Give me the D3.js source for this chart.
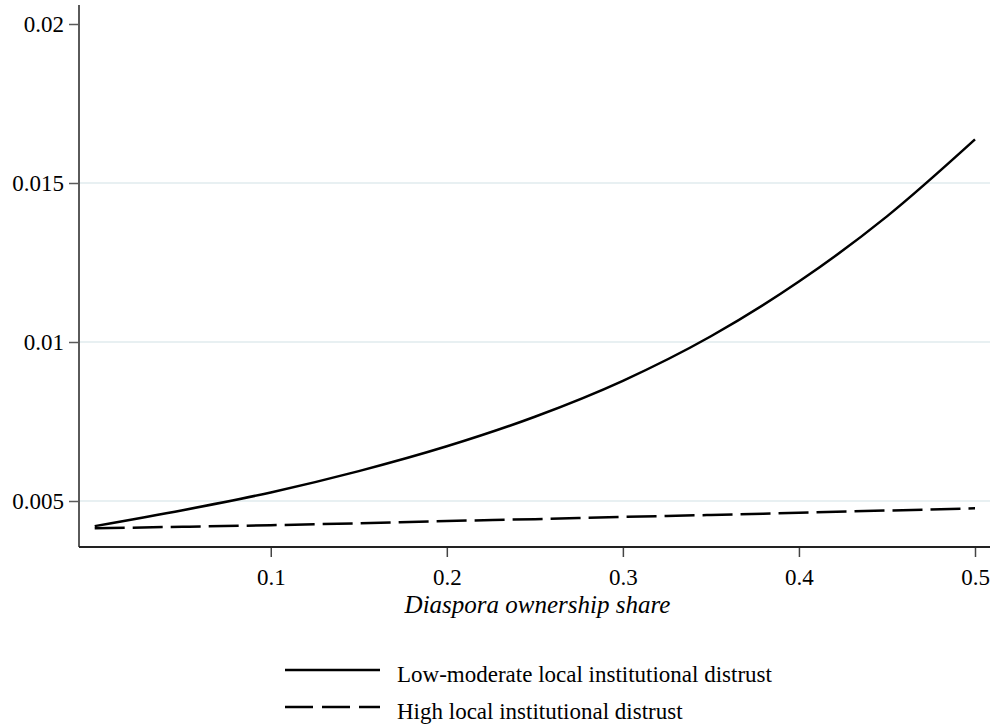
<!DOCTYPE html>
<html>
<head>
<meta charset="utf-8">
<script src="https://cdn.jsdelivr.net/npm/d3@7.9.0/dist/d3.min.js"></script>
<style>
  body { margin: 0; background: #fff; }
  svg text { font-family: "Liberation Serif", "Times New Roman", serif; fill: #000; }
</style>
</head>
<body>
<svg id="chart" width="994" height="726"></svg>
<script>
const shares = [0, 0.05, 0.1, 0.15, 0.2, 0.25, 0.3, 0.35, 0.4, 0.45, 0.5];
const lowModerate = [0.00421, 0.00471, 0.00527, 0.00594, 0.00672, 0.00765, 0.00878, 0.01018, 0.0119, 0.01395, 0.01637];
const high = [0.00414, 0.00419, 0.00424, 0.0043, 0.00437, 0.00443, 0.0045, 0.00456, 0.00463, 0.0047, 0.00477];
const xTicks = [0.1, 0.2, 0.3, 0.4, 0.5];
const yTicks = [0.005, 0.01, 0.015, 0.02];
const gridTicks = [0.005, 0.01, 0.015];
const seriesNames = ['Low-moderate local institutional distrust', 'High local institutional distrust'];

const svg = d3.select('#chart');
const plotLeft = 79, plotRight = 990, plotTop = 5, plotBottom = 547;
const serif = '"Liberation Serif", "Times New Roman", serif';

const x = d3.scaleLinear().domain([0, 0.5]).range([94.7, 975]);
const y = d3.scaleLinear().domain([0.005, 0.02]).range([501, 24]);

// gridlines
svg.append('g')
  .selectAll('line')
  .data(gridTicks)
  .join('line')
  .attr('x1', plotLeft)
  .attr('x2', plotRight)
  .attr('y1', (d) => y(d))
  .attr('y2', (d) => y(d))
  .attr('stroke', '#e8f0f2')
  .attr('stroke-width', 2);

// y axis
const yAxis = svg.append('g')
  .attr('transform', `translate(${plotLeft},0)`)
  .call(d3.axisLeft(y).tickValues(yTicks).tickSize(10).tickPadding(5).tickFormat((d) => String(+d.toFixed(3))));
yAxis.attr('font-family', serif).attr('font-size', 23);
yAxis.select('.domain').remove();
yAxis.append('line')
  .attr('y1', plotTop).attr('y2', plotBottom)
  .attr('stroke', '#5a5a5a').attr('stroke-width', 2);
yAxis.selectAll('.tick line').attr('stroke', '#5a5a5a').attr('stroke-width', 1.5);
yAxis.selectAll('.tick text').attr('fill', '#000');

// x axis
const xAxis = svg.append('g')
  .attr('transform', `translate(0,${plotBottom})`)
  .call(d3.axisBottom(x).tickValues(xTicks).tickSize(10).tickPadding(12).tickFormat((d) => String(d)));
xAxis.attr('font-family', serif).attr('font-size', 23);
xAxis.select('.domain').remove();
xAxis.append('line')
  .attr('x1', plotLeft).attr('x2', plotRight)
  .attr('stroke', '#222').attr('stroke-width', 2);
xAxis.selectAll('.tick line').attr('stroke', '#444').attr('stroke-width', 1.5);
xAxis.selectAll('.tick text').attr('fill', '#000');

svg.append('text')
  .attr('x', 537.5)
  .attr('y', 613)
  .attr('text-anchor', 'middle')
  .attr('font-size', 25)
  .attr('font-style', 'italic')
  .text('Diaspora ownership share');

// lines
const line = d3.line()
  .x((d) => x(d[0]))
  .y((d) => y(d[1]))
  .curve(d3.curveMonotoneX);

svg.append('path')
  .datum(shares.map((s, i) => [s, lowModerate[i]]))
  .attr('d', line)
  .attr('fill', 'none')
  .attr('stroke', '#000')
  .attr('stroke-width', 2.5);

svg.append('path')
  .datum(shares.map((s, i) => [s, high[i]]))
  .attr('d', line)
  .attr('fill', 'none')
  .attr('stroke', '#000')
  .attr('stroke-width', 2.5)
  .attr('stroke-dasharray', '30,8');

// legend
const legend = svg.append('g');
const dashes = [null, '28,9'];
seriesNames.forEach((name, i) => {
  const ly = 670 + i * 37;
  legend.append('line')
    .attr('x1', 285).attr('x2', 380)
    .attr('y1', ly).attr('y2', ly)
    .attr('stroke', '#000')
    .attr('stroke-width', 2.5)
    .attr('stroke-dasharray', dashes[i]);
  legend.append('text')
    .attr('x', 397)
    .attr('y', ly + 11.5)
    .attr('font-size', 23)
    .text(name);
});
</script>
</body>
</html>
